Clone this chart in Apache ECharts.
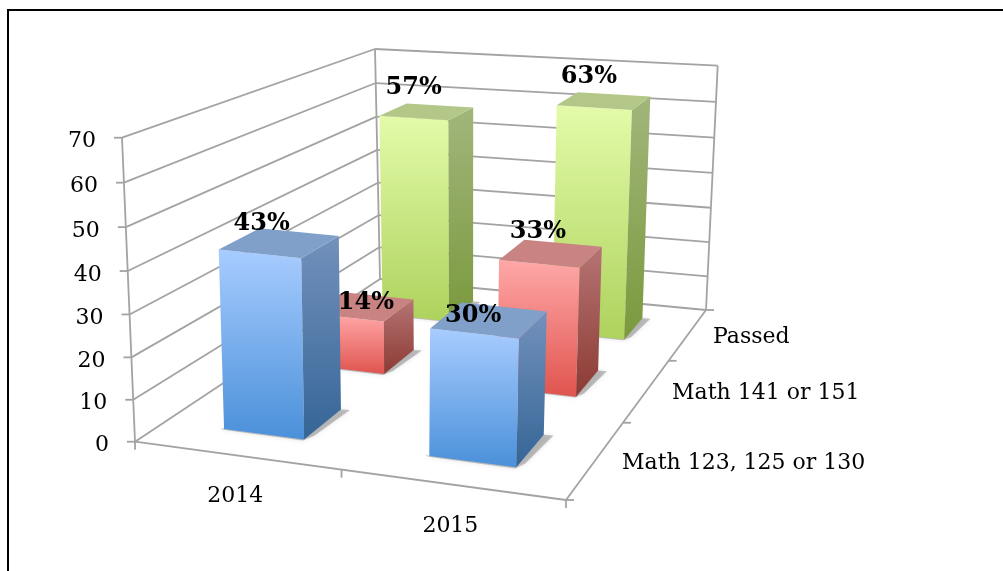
<!DOCTYPE html>
<html>
<head>
<meta charset="utf-8">
<style>
  html, body { margin: 0; padding: 0; background: #fff; }
  #chart { width: 1003px; height: 571px; }
</style>
<script src="https://cdn.jsdelivr.net/npm/echarts@6/dist/echarts.min.js"></script>
</head>
<body>
<div id="chart"></div>
<script>
// data
const years = ['2014', '2015'];
const courses = ['Math 123, 125 or 130', 'Math 141 or 151', 'Passed'];
const math123 = [43, 30];
const math141 = [14, 33];
const passed = [57, 63];
const valueTicks = [0, 10, 20, 30, 40, 50, 60, 70];

// 3D box corners on screen [x, y], the box is 2 categories wide, 3 deep, 70 high
const corners = {
  f0b: [135, 441.7], f1b: [566, 500], b0b: [380, 279], b1b: [706, 310],
  f0t: [122, 137.7], f1t: [576, 180], b0t: [375, 49], b1t: [717.7, 65.7],
};
// perspective warp per axis
const warpX = 0.92;
const warpZ = 1.37;
const warpY = 0.96;
const barHalfX = 0.1;
const barHalfZ = 0.072;

const warp = (t, k) => (t * k) / (1 + t * (k - 1));
const mix = (a, b, t) => [a[0] + (b[0] - a[0]) * t, a[1] + (b[1] - a[1]) * t];

// u, v in 0..1 come from the hidden axes, w is depth 0..1
const project = (u, v, w) => {
  const tu = warp(u, warpX);
  const tv = warp(v, warpY);
  const tw = warp(w, warpZ);
  const bottom = mix(mix(corners.f0b, corners.f1b, tu), mix(corners.b0b, corners.b1b, tu), tw);
  const top = mix(mix(corners.f0t, corners.f1t, tu), mix(corners.b0t, corners.b1t, tu), tw);
  return mix(bottom, top, tv);
};

// read the hidden cartesian axes and turn them into unit coordinates
const toUnit = (api, params, xVal, yVal) => {
  const p = api.coord([xVal, yVal]);
  const r = params.coordSys;
  return [(p[0] - r.x) / r.width, (r.y + r.height - p[1]) / r.height];
};
const grad = (c1, c2) => ({
  type: 'linear', x: 0, y: 0, x2: 0, y2: 1,
  colorStops: [{ offset: 0, color: c1 }, { offset: 1, color: c2 }],
});
const poly = (points, fill, extra) => ({
  type: 'polygon',
  shape: { points },
  style: Object.assign({ fill }, extra || {}),
});
const gridColor = '#a3a3a3';
const line = (a, b) => ({
  type: 'line',
  shape: { x1: a[0], y1: a[1], x2: b[0], y2: b[1] },
  style: { stroke: gridColor, lineWidth: 1.8, fill: null },
});
const label = (text, x, y, font, align) => ({
  type: 'text',
  x,
  y,
  style: { text, font, fill: '#000', align: align || 'center', verticalAlign: 'middle' },
});
const tickFont = '22px "DejaVu Serif"';
const valueFont = 'bold 24px "DejaVu Serif"';
const courseLabelX = [622, 672, 713];
const courseLabelDy = [4, 3, 3];

// walls, ticks and axis text
const renderFrame = (params, api) => {
  const children = [];
  valueTicks.forEach((tick) => {
    const v = toUnit(api, params, 0, tick)[1];
    const a = project(0, v, 0);
    const b = project(0, v, 1);
    const c = project(1, v, 1);
    children.push(line(a, b), line(b, c));
    children.push(line(a, [a[0] - 8, a[1]]));
    children.push(label(String(tick), a[0] - 26, a[1] + 4, tickFont, 'right'));
  });
  children.push(line(project(0, 0, 0), project(0, 1, 0)));
  children.push(line(project(0, 0, 1), project(0, 1, 1)));
  children.push(line(project(1, 0, 1), project(1, 1, 1)));
  // floor edges
  children.push(line(project(0, 0, 0), project(1, 0, 0)));
  children.push(line(project(1, 0, 0), project(1, 0, 1)));
  // x ticks and labels
  for (let i = 0; i <= years.length; i++) {
    const p = project(i / years.length, 0, 0);
    children.push(line(p, [p[0], p[1] + 8]));
  }
  years.forEach((year, i) => {
    const p = project((i + 0.5) / years.length, 0, 0);
    children.push(label(year, p[0] - 1, p[1] + 41 + i, tickFont));
  });
  // depth ticks and labels
  for (let i = 0; i <= courses.length; i++) {
    const p = project(1, 0, i / courses.length);
    children.push(line(p, [p[0] + 8, p[1]]));
  }
  courses.forEach((course, i) => {
    const p = project(1, 0, (i + 0.5) / courses.length);
    children.push(label(course, courseLabelX[i], p[1] + courseLabelDy[i], tickFont, 'left'));
  });
  return { type: 'group', children };
};

// one 3D bar, depth comes from the row index
const makeBar = (row, look) => (params, api) => {
  const cat = api.value(0);
  const val = api.value(1);
  const cx = (cat + 0.5) / years.length;
  const cw = (row + 0.5) / courses.length;
  const top = toUnit(api, params, 0, val)[1];
  const x0 = cx - barHalfX;
  const x1 = cx + barHalfX;
  const w0 = cw - barHalfZ;
  const w1 = cw + barHalfZ;
  const A = project(x0, 0, w0);
  const B = project(x1, 0, w0);
  const C = project(x1, 0, w1);
  const E = project(x0, top, w0);
  const F = project(x1, top, w0);
  const G = project(x1, top, w1);
  const H = project(x0, top, w1);
  const shadow = [
    project(x0 - 0.012, 0, w0 + 0.004),
    project(x0, 0, w0 - 0.004),
    project(x1, 0, w0 - 0.005),
    project(x1 + 0.012, 0, w0 + 0.02),
    project(x1 + 0.022, 0, w1 + 0.002),
    C,
    A,
  ];
  return {
    type: 'group',
    children: [
      poly(shadow, 'rgba(90,90,90,0.35)', { shadowBlur: 4, shadowColor: 'rgba(0,0,0,0.3)' }),
      poly([A, B, F, E], grad(look.front[0], look.front[1])),
      poly([B, C, G, F], grad(look.side[0], look.side[1])),
      poly([E, F, G, H], look.top),
    ],
  };
};

const rows = [math123, math141, passed];
const labelNudge = [
  [[2, -30], [-1, -18]],
  [[19, -15], [-1, -32]],
  [[0, -30], [-5, -31]],
];

const renderLabels = (params, api) => {
  const children = [];
  rows.forEach((values, row) => {
    values.forEach((val, cat) => {
      const cx = (cat + 0.5) / years.length;
      const cw = (row + 0.5) / courses.length;
      const top = toUnit(api, params, 0, val)[1];
      const p = project(cx, top, cw - barHalfZ);
      const nudge = labelNudge[row][cat];
      children.push(label(val + '%', p[0] + nudge[0], p[1] + nudge[1], valueFont));
    });
  });
  return { type: 'group', children };
};

const looks = [
  { front: ['#a8ccff', '#4a90d9'], side: ['#7391bc', '#356596'], top: '#80a0ca' },
  { front: ['#ffa8a8', '#e0544e'], side: ['#b57474', '#8c3a33'], top: '#c98383' },
  { front: ['#e3fba9', '#aed25d'], side: ['#a2b67b', '#7a993d'], top: '#b3c789' },
];

const barSeries = (row) => ({
  type: 'custom',
  coordinateSystem: 'cartesian2d',
  renderItem: makeBar(row, looks[row]),
  data: rows[row].map((val, cat) => [cat, val]),
  silent: true,
  clip: false,
});

const myChart = echarts.init(document.getElementById('chart'));
myChart.setOption({
  animation: false,
  backgroundColor: '#fff',
  grid: { left: 100, right: 100, top: 100, bottom: 100 },
  xAxis: { type: 'value', min: 0, max: 1, show: false },
  yAxis: { type: 'value', min: 0, max: 70, interval: 10, show: false },
  // the page frame only shows on the top and left in the original
  graphic: [
    { type: 'line', shape: { x1: 7, y1: 10, x2: 1003, y2: 10 }, style: { stroke: '#000', lineWidth: 2 }, silent: true },
    { type: 'line', shape: { x1: 8, y1: 9, x2: 8, y2: 571 }, style: { stroke: '#000', lineWidth: 2 }, silent: true },
  ],
  series: [
    { type: 'custom', renderItem: renderFrame, data: [[0, 0]], silent: true, clip: false },
    barSeries(2),
    barSeries(1),
    barSeries(0),
    { type: 'custom', renderItem: renderLabels, data: [[0, 0]], silent: true, clip: false },
  ],
});
</script>
</body>
</html>
